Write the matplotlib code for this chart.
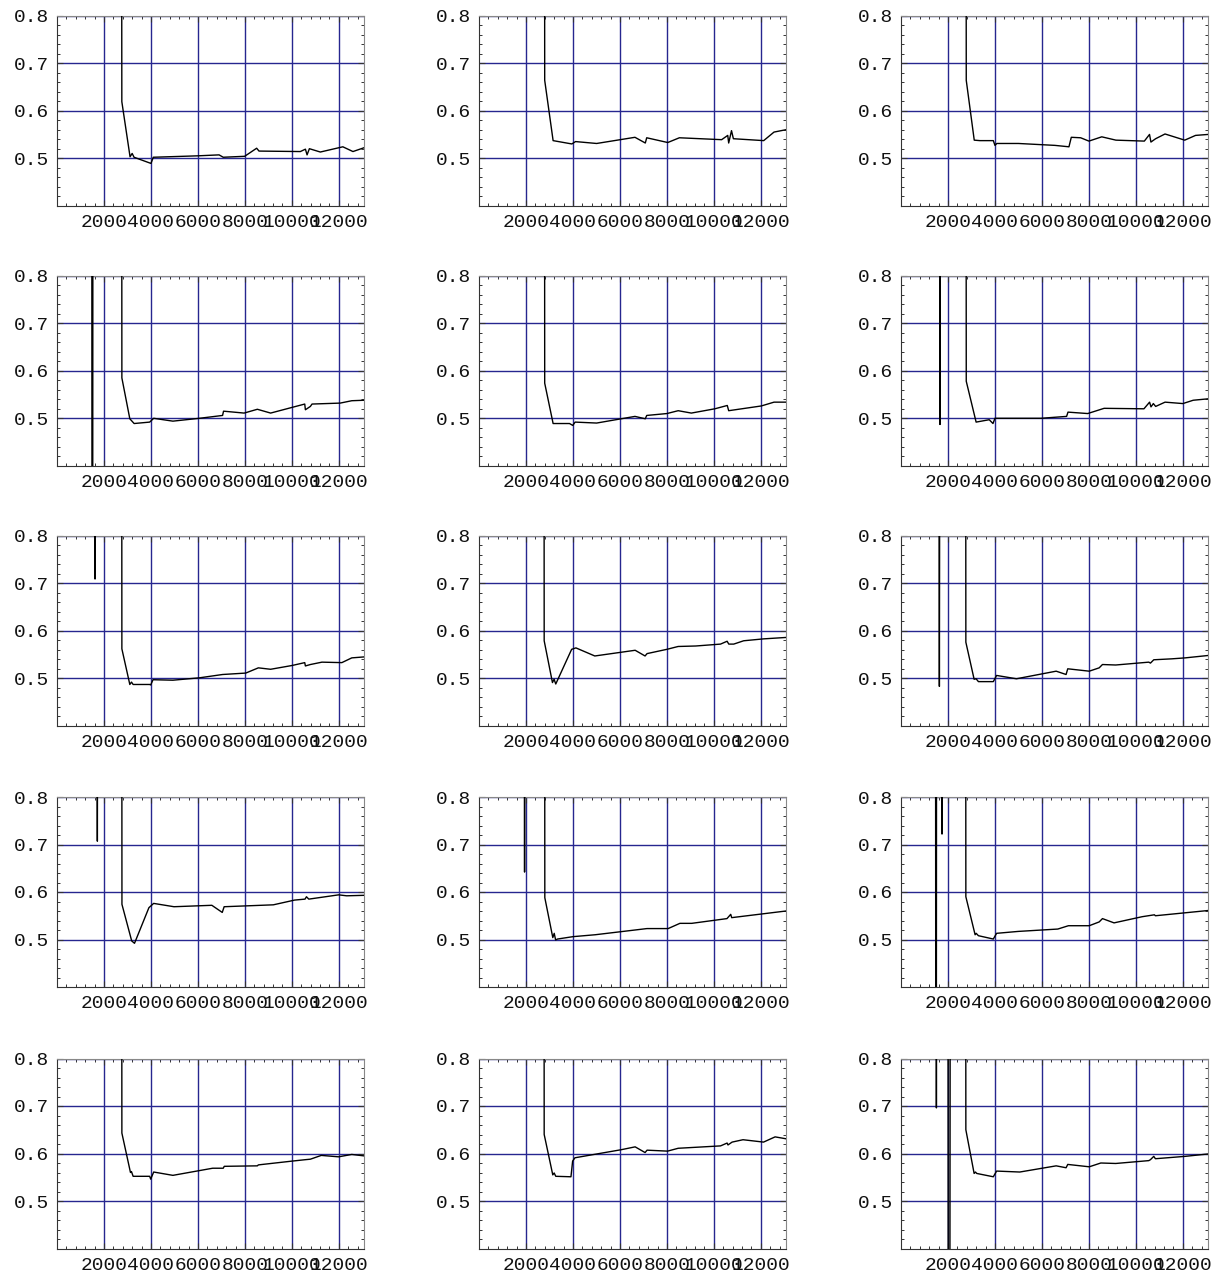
import numpy as np
import matplotlib
matplotlib.use("Agg")
import matplotlib.pyplot as plt
from matplotlib.ticker import FixedLocator, MultipleLocator, FormatStrFormatter

nan = np.nan

# curve data, one pair of lists per panel (row, column); nan splits separate strokes
x_r1c1 = [2750, 2760, 3110, 3200, 3280, 4000, 4100, 6000, 6900, 7077, 7990, 8500, 8600, 10360, 10576, 10646, 10745, 11210, 12170, 12600, 13070]
y_r1c1 = [1.20, 0.619, 0.503, 0.510, 0.502, 0.489, 0.502, 0.505, 0.507, 0.502, 0.504, 0.521, 0.515, 0.514, 0.519, 0.507, 0.520, 0.513, 0.524, 0.514, 0.522]

x_r1c2 = [2790, 2797, 3155, 3952, 4110, 5008, 6640, 7080, 7140, 8036, 8530, 10330, 10590, 10630, 10750, 10830, 12120, 12560, 13070]
y_r1c2 = [1.20, 0.664, 0.537, 0.530, 0.535, 0.531, 0.544, 0.532, 0.543, 0.533, 0.543, 0.539, 0.548, 0.532, 0.558, 0.541, 0.537, 0.555, 0.560]

x_r1c3 = [2770, 2778, 3118, 3357, 3930, 4000, 4080, 5000, 6551, 7150, 7250, 7649, 8000, 8547, 9150, 10360, 10580, 10640, 10840, 11240, 12080, 12540, 13070]
y_r1c3 = [1.20, 0.664, 0.538, 0.537, 0.537, 0.527, 0.531, 0.531, 0.527, 0.524, 0.544, 0.543, 0.536, 0.545, 0.538, 0.536, 0.550, 0.534, 0.541, 0.551, 0.538, 0.548, 0.550]

x_r2c1 = [1480, 1490, 1520, 1530, nan, 2755, 2762, 3100, 3284, 3946, 4116, 4934, 6062, 7049, 7090, 7965, 8530, 9094, 10011, 10547, 10575, 10787, 10857, 12056, 12550, 13070]
y_r2c1 = [1.20, 0.20, 0.20, 1.20, nan, 1.20, 0.585, 0.499, 0.489, 0.492, 0.500, 0.494, 0.500, 0.506, 0.515, 0.511, 0.519, 0.511, 0.523, 0.530, 0.518, 0.525, 0.530, 0.532, 0.537, 0.538]

x_r2c2 = [2790, 2797, 3155, 3853, 3992, 4092, 5008, 6640, 7080, 7140, 8000, 8480, 9040, 10040, 10570, 10630, 12020, 12560, 13070]
y_r2c2 = [1.20, 0.574, 0.489, 0.489, 0.485, 0.492, 0.490, 0.504, 0.499, 0.506, 0.510, 0.516, 0.511, 0.520, 0.527, 0.516, 0.526, 0.534, 0.534]

x_r2c3 = [1655, 1660, 1665, nan, 2770, 2778, 3198, 3756, 3916, 4000, 5952, 7050, 7110, 7948, 8647, 10343, 10583, 10643, 10743, 10842, 11242, 12000, 12439, 13070]
y_r2c3 = [1.20, 0.487, 1.20, nan, 1.20, 0.578, 0.492, 0.497, 0.489, 0.500, 0.500, 0.504, 0.513, 0.510, 0.521, 0.520, 0.534, 0.524, 0.531, 0.525, 0.534, 0.531, 0.538, 0.541]

x_r3c1 = [1600, 1619, 1640, nan, 2755, 2762, 3100, 3171, 3241, 3946, 3989, 4088, 4934, 6062, 7049, 8036, 8572, 9094, 10011, 10547, 10575, 10787, 11280, 12127, 12550, 13070]
y_r3c1 = [1.20, 0.709, 1.20, nan, 1.20, 0.562, 0.487, 0.492, 0.487, 0.487, 0.486, 0.497, 0.496, 0.501, 0.508, 0.511, 0.522, 0.519, 0.527, 0.533, 0.526, 0.529, 0.534, 0.533, 0.543, 0.545]

x_r3c2 = [2768, 2775, 3127, 3197, 3268, 3944, 4127, 4930, 6648, 7070, 7155, 8000, 8479, 9225, 10282, 10563, 10634, 10845, 11268, 12113, 13070]
y_r3c2 = [1.20, 0.579, 0.491, 0.498, 0.488, 0.561, 0.564, 0.547, 0.559, 0.547, 0.552, 0.561, 0.567, 0.568, 0.572, 0.578, 0.572, 0.572, 0.579, 0.583, 0.586]

x_r3c3 = [1615, 1634, 1655, nan, 2754, 2761, 3113, 3197, 3296, 3930, 4070, 4915, 6606, 7028, 7099, 8014, 8437, 8577, 9141, 10549, 10620, 10761, 11535, 12099, 13070]
y_r3c3 = [1.20, 0.483, 1.20, nan, 1.20, 0.576, 0.498, 0.499, 0.493, 0.493, 0.506, 0.499, 0.515, 0.508, 0.520, 0.515, 0.522, 0.529, 0.528, 0.534, 0.532, 0.539, 0.541, 0.543, 0.548]

x_r4c1 = [1700, 1718, 1738, nan, 2758, 2765, 3180, 3300, 3913, 4114, 4980, 6592, 7035, 7116, 9210, 10116, 10559, 10620, 10720, 11990, 12332, 13070]
y_r4c1 = [1.20, 0.707, 1.20, nan, 1.20, 0.574, 0.497, 0.492, 0.567, 0.576, 0.569, 0.572, 0.557, 0.569, 0.573, 0.583, 0.585, 0.590, 0.585, 0.594, 0.592, 0.593]

x_r4c2 = [1935, 1940, 1945, nan, 2795, 2802, 3142, 3202, 3262, 3343, 4004, 4946, 7150, 8052, 8553, 9054, 10557, 10717, 10757, 13070]
y_r4c2 = [1.20, 0.642, 1.20, nan, 1.20, 0.588, 0.504, 0.513, 0.499, 0.501, 0.506, 0.510, 0.523, 0.523, 0.534, 0.534, 0.544, 0.553, 0.546, 0.560]

x_r4c3 = [1470, 1480, 1505, 1515, nan, 1740, 1746, 1752, nan, 2754, 2761, 3155, 3200, 3296, 3930, 4070, 4986, 6676, 7127, 8014, 8437, 8577, 9070, 10268, 10789, 10830, 13070]
y_r4c3 = [1.20, 0.20, 0.20, 1.20, nan, 1.20, 0.722, 1.20, nan, 1.20, 0.590, 0.510, 0.513, 0.508, 0.501, 0.513, 0.517, 0.522, 0.529, 0.529, 0.537, 0.544, 0.535, 0.548, 0.552, 0.550, 0.561]

x_r5c1 = [2755, 2762, 3128, 3170, 3241, 3946, 3989, 4116, 4934, 6062, 6626, 7078, 7120, 8530, 8572, 10011, 10575, 10787, 11252, 11986, 12550, 13070]
y_r5c1 = [1.20, 0.643, 0.560, 0.562, 0.552, 0.552, 0.546, 0.561, 0.554, 0.564, 0.569, 0.569, 0.573, 0.574, 0.576, 0.584, 0.587, 0.588, 0.596, 0.593, 0.598, 0.595]

x_r5c2 = [2768, 2775, 3141, 3200, 3268, 3915, 3986, 4085, 6056, 6648, 7070, 7155, 8028, 8479, 10282, 10563, 10600, 10775, 11240, 12113, 12606, 13070]
y_r5c2 = [1.20, 0.640, 0.555, 0.559, 0.552, 0.551, 0.584, 0.591, 0.608, 0.614, 0.602, 0.607, 0.605, 0.611, 0.616, 0.622, 0.618, 0.624, 0.629, 0.624, 0.635, 0.631]

x_r5c3 = [1490, 1507, 1525, nan, 2000, 2010, 2080, 2100, nan, 2754, 2761, 3113, 3170, 3225, 3930, 4070, 5056, 6606, 7028, 7099, 8014, 8507, 9141, 10549, 10620, 10761, 10831, 12099, 13070]
y_r5c3 = [1.20, 0.696, 1.20, nan, 1.20, 0.20, 0.20, 1.20, nan, 1.20, 0.650, 0.558, 0.561, 0.558, 0.551, 0.563, 0.561, 0.574, 0.570, 0.577, 0.572, 0.580, 0.579, 0.585, 0.587, 0.594, 0.589, 0.594, 0.599]

panels = [
    [(x_r1c1, y_r1c1), (x_r1c2, y_r1c2), (x_r1c3, y_r1c3)],
    [(x_r2c1, y_r2c1), (x_r2c2, y_r2c2), (x_r2c3, y_r2c3)],
    [(x_r3c1, y_r3c1), (x_r3c2, y_r3c2), (x_r3c3, y_r3c3)],
    [(x_r4c1, y_r4c1), (x_r4c2, y_r4c2), (x_r4c3, y_r4c3)],
    [(x_r5c1, y_r5c1), (x_r5c2, y_r5c2), (x_r5c3, y_r5c3)],
]

x_ticks = [2000, 4000, 6000, 8000, 10000, 12000]
y_ticks = [0.5, 0.6, 0.7, 0.8]

W, H = 1229, 1280
fig = plt.figure(figsize=(W / 100, H / 100), dpi=100)
plt.rcParams['font.family'] = ['Liberation Mono', 'DejaVu Sans Mono']

col_left = [57, 479, 901]
row_top = [15.7, 275.8, 535.8, 797, 1058.5]
ax_w, ax_h = 307, 190

for r in range(5):
    for c in range(3):
        x, y = panels[r][c]
        ax = fig.add_axes([col_left[c] / W, 1 - (row_top[r] + ax_h) / H, ax_w / W, ax_h / H])
        ax.plot(x, y, color='black', lw=1.0, zorder=3)
        ax.set_xlim(0, 13070)
        ax.set_ylim(0.4, 0.8)
        ax.xaxis.set_major_locator(FixedLocator(x_ticks))
        ax.yaxis.set_major_locator(FixedLocator(y_ticks))
        ax.xaxis.set_minor_locator(MultipleLocator(400))
        ax.yaxis.set_minor_locator(MultipleLocator(0.02))
        ax.yaxis.set_major_formatter(FormatStrFormatter('%.1f'))
        ax.grid(True, which='major', color='#26268f', lw=1.0, zorder=1)
        ax.tick_params(which='both', direction='in', top=True, right=True,
                       labelsize=14, colors='#333333', labelcolor='#111111')
        ax.tick_params(which='major', length=4)
        ax.tick_params(which='minor', length=2, width=0.7)
        ax.tick_params(axis='x', pad=6)
        ax.tick_params(axis='y', pad=6)
        for side in ['left', 'bottom']:
            ax.spines[side].set_color('#333333')
        for side in ['top', 'right']:
            ax.spines[side].set_color('#888888')

fig.savefig("out.png", dpi=100)
